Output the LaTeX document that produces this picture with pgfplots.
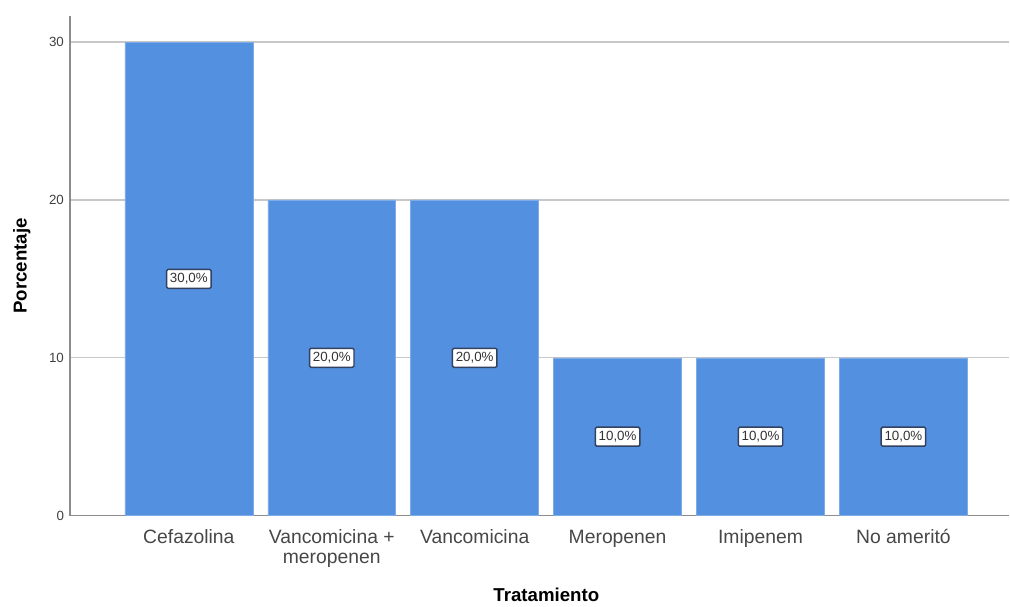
\documentclass[border=0pt]{standalone}
\usepackage{pgfplots}
\pgfplotsset{compat=1.18}
\usepackage{fontspec}
\setmainfont{Liberation Sans}
\definecolor{barblue}{RGB}{83,145,224}
\definecolor{gridgray}{RGB}{200,200,200}
\definecolor{axgray}{RGB}{140,140,140}
\definecolor{boxedge}{RGB}{50,65,95}
\newcommand\st{\rule{0pt}{11.5pt}}
\begin{document}
\begin{tikzpicture}
\begin{axis}[
  scale only axis,
  width=705pt, height=375pt,
  xmin=-0.832, xmax=5.741,
  ymin=0, ymax=31.65,
  axis x line=bottom, axis y line=left,
  axis line style={-, draw=axgray, line width=1pt},
  xtick={0,1,2,3,4,5},
  xticklabels={\st Cefazolina, {\st Vancomicina +\\meropenen}, \st Vancomicina, \st Meropenen, \st Imipenem, \st No ameritó},
  ytick={0,10,20,30},
  major tick length=0pt,
  ymajorgrids,
  grid style={draw=gridgray, line width=1pt},
  xticklabel style={align=center, anchor=north, yshift=-6pt, font=\fontsize{14.5}{14.5}\selectfont, text=black!72},
  yticklabel style={font=\fontsize{10}{12}\selectfont, text=black!75, xshift=-1pt},
  /pgf/number format/assume math mode=true,
  xlabel={Tratamiento},
  ylabel={Porcentaje},
  xlabel style={font=\bfseries\fontsize{14}{16}\selectfont, yshift=-9pt, xshift=5pt},
  ylabel style={font=\bfseries\fontsize{14}{16}\selectfont, yshift=7pt},
]
\addplot[ybar, bar width=0.895, fill=barblue, draw=barblue!75!white] coordinates {
  (0,30) (1,20) (2,20) (3,10) (4,10) (5,10)
};
\addplot[only marks, mark=none,
  nodes near coords,
  point meta=explicit symbolic,
  every node near coord/.append style={anchor=center, fill=white, draw=boxedge, line width=1.1pt, rounded corners=1pt, inner xsep=2.5pt, inner ysep=3pt, font=\fontsize{10}{11}\selectfont, text=black!80},
] table[meta=lab] {
x y lab
0 15 {30,0\%}
1 10 {20,0\%}
2 10 {20,0\%}
3 5 {10,0\%}
4 5 {10,0\%}
5 5 {10,0\%}
};
\end{axis}
\path[use as bounding box] (-52.5pt,-66pt) rectangle (705pt,387pt);
\end{tikzpicture}
\end{document}
